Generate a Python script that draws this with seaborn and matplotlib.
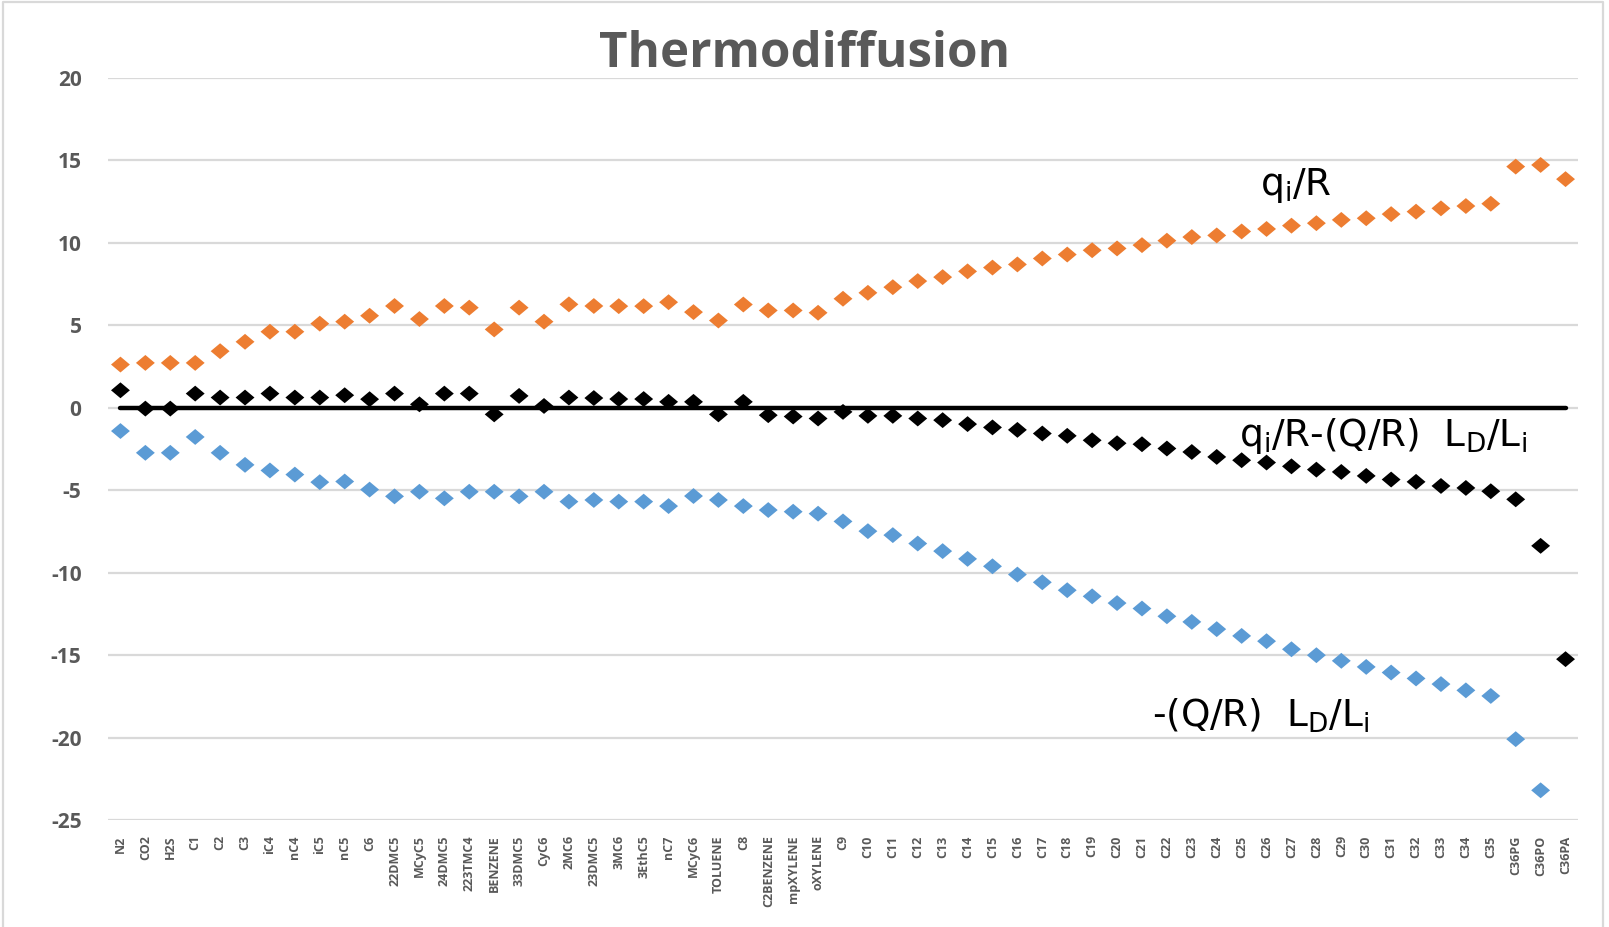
import numpy as np
import pandas as pd
import matplotlib
matplotlib.use("Agg")
import matplotlib.pyplot as plt
from matplotlib.path import Path
from matplotlib.lines import Line2D
import seaborn as sns

# Components along the category axis
components = [
    "N2", "CO2", "H2S", "C1", "C2", "C3", "iC4", "nC4", "iC5", "nC5", "C6",
    "22DMC5", "MCyC5", "24DMC5", "223TMC4", "BENZENE", "33DMC5", "CyC6",
    "2MC6", "23DMC5", "3MC6", "3EthC5", "nC7", "MCyC6", "TOLUENE", "C8",
    "C2BENZENE", "mpXYLENE", "oXYLENE", "C9", "C10", "C11", "C12", "C13",
    "C14", "C15", "C16", "C17", "C18", "C19", "C20", "C21", "C22", "C23",
    "C24", "C25", "C26", "C27", "C28", "C29", "C30", "C31", "C32", "C33",
    "C34", "C35", "C36PG", "C36PO", "C36PA",
]

# q_i/R
q_over_r = [
    2.61, 2.71, 2.71, 2.71, 3.42, 3.99, 4.60, 4.60, 5.09, 5.21, 5.57,
    6.16, 5.37, 6.16, 6.06, 4.74, 6.06, 5.21, 6.26, 6.16, 6.15, 6.15,
    6.39, 5.79, 5.28, 6.25, 5.89, 5.89, 5.75, 6.60, 6.96, 7.30, 7.67,
    7.91, 8.26, 8.49, 8.68, 9.04, 9.28, 9.54, 9.65, 9.85, 10.12, 10.34,
    10.44, 10.68, 10.83, 11.03, 11.18, 11.38, 11.48, 11.73, 11.88, 12.08,
    12.22, 12.36, 14.61, 14.71, 13.85,
]

# q_i/R - (Q/R) L_D/L_i
net_term = [
    1.05, -0.06, -0.06, 0.85, 0.61, 0.61, 0.85, 0.61, 0.61, 0.75, 0.51,
    0.85, 0.20, 0.85, 0.85, -0.41, 0.71, 0.10, 0.61, 0.58, 0.52, 0.52,
    0.35, 0.35, -0.41, 0.35, -0.46, -0.54, -0.66, -0.26, -0.50, -0.50,
    -0.66, -0.76, -1.00, -1.20, -1.35, -1.57, -1.71, -1.98, -2.16, -2.22,
    -2.48, -2.69, -2.99, -3.19, -3.33, -3.56, -3.76, -3.90, -4.14, -4.36,
    -4.50, -4.75, -4.87, -5.07, -5.56, -8.38, -15.25,
]

# -(Q/R) L_D/L_i  (the C36PA value lies below the axis range)
heat_term = [
    -1.42, -2.74, -2.74, -1.78, -2.74, -3.47, -3.81, -4.06, -4.52, -4.48,
    -4.97, -5.38, -5.10, -5.50, -5.10, -5.10, -5.38, -5.10, -5.70, -5.60,
    -5.70, -5.70, -5.97, -5.36, -5.60, -5.97, -6.21, -6.31, -6.43, -6.90,
    -7.49, -7.73, -8.24, -8.70, -9.17, -9.62, -10.12, -10.59, -11.07,
    -11.44, -11.85, -12.18, -12.65, -12.99, -13.43, -13.84, -14.16, -14.65,
    -15.01, -15.35, -15.72, -16.06, -16.42, -16.76, -17.14, -17.48, -20.10,
    -23.20, np.nan,
]

# Reference line at zero
zero_line = [0.0] * len(components)

y_ticks = [20, 15, 10, 5, 0, -5, -10, -15, -20, -25]

GRAY_TEXT = "#595959"
GRID = "#d9d9d9"
ORANGE = "#ED7D31"
BLUE = "#5B9BD5"
BLACK = "#000000"

sns.set_theme(style="white")
plt.rcParams["font.family"] = ["Open Sans", "DejaVu Sans"]
plt.rcParams["mathtext.fontset"] = "dejavusans"

fig = plt.figure(figsize=(16.09, 9.27), dpi=100)
ax = fig.add_axes([108 / 1609, 1 - 820 / 927, 1470 / 1609, (820 - 77.7) / 927])

pos = np.arange(len(components))
df = pd.DataFrame({
    "pos": np.concatenate([pos, pos, pos]),
    "value": np.concatenate([heat_term, q_over_r, net_term]),
    "series": (["heat"] * len(pos)) + (["q"] * len(pos)) + (["net"] * len(pos)),
})

# Slightly flattened diamond marker
diamond = Path([(-1.0, 0.0), (0.0, 0.84), (1.0, 0.0), (0.0, -0.84), (-1.0, 0.0)],
               closed=True)

sns.lineplot(x=pos, y=zero_line, color=BLACK, lw=3.2, ax=ax, zorder=3,
             solid_capstyle="round")
sns.scatterplot(data=df, x="pos", y="value", hue="series",
                palette={"heat": BLUE, "q": ORANGE, "net": BLACK},
                marker=diamond, s=185, linewidth=0, legend=False, ax=ax,
                zorder=4)

ax.set_xlim(-0.5, len(components) - 0.5)
ax.set_ylim(-25, 20)
ax.set_yticks(y_ticks)
ax.set_xticks(pos)
ax.set_xticklabels(components, rotation=90, fontsize=9, fontweight="bold",
                   color=GRAY_TEXT)
ax.set_yticklabels([str(v) for v in y_ticks], fontsize=15, fontweight="bold",
                   color=GRAY_TEXT)
ax.tick_params(axis="x", length=0, pad=11)
ax.tick_params(axis="y", length=0, pad=19)
ax.yaxis.grid(True, color=GRID, lw=1.6)
ax.xaxis.grid(False)
ax.set_axisbelow(True)
for side in ["left", "right", "top", "bottom"]:
    ax.spines[side].set_visible(False)
ax.set_xlabel("")
ax.set_ylabel("")

fig.text(0.5, 1 - 67 / 927, "Thermodiffusion", ha="center", va="baseline",
         fontsize=35.5, fontweight="bold", color=GRAY_TEXT)

ann = dict(family="DejaVu Sans", fontsize=27, color=BLACK, ha="left",
           va="baseline")
ax.text(45.75, 12.9, r"q$_{\mathrm{i}}$/R", **ann)
ax.text(44.9, -2.32, r"q$_{\mathrm{i}}$/R-(Q/R)  L$_{\mathrm{D}}$/L$_{\mathrm{i}}$", **ann)
ax.text(41.4, -19.34, r"-(Q/R)  L$_{\mathrm{D}}$/L$_{\mathrm{i}}$", **ann)

# Chart-area border (left, top, right)
x0, x1, yt = 3 / 1609, 1603 / 1609, 1 - 1.5 / 927
fig.add_artist(Line2D([x0, x0, x1, x1], [0, yt, yt, 0], transform=fig.transFigure,
                      color=GRID, lw=1.6))

fig.savefig("out.png", dpi=100, facecolor="white")
